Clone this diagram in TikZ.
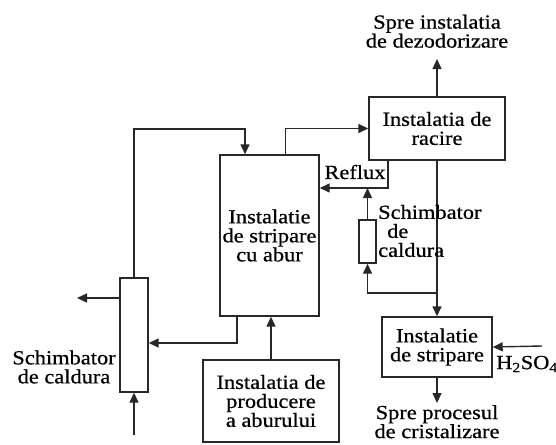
\documentclass[tikz,border=0pt]{standalone}
\usepackage{fontspec}
\setmainfont{Liberation Serif}[FakeStretch=1.12, FakeBold=0.6]
\usepackage{tikz}
\usetikzlibrary{arrows.meta, positioning, calc}
\definecolor{inkGray}{RGB}{40,40,40}

\begin{document}
\begin{tikzpicture}[x=1pt, y=-1pt,
    unit/.style={draw=inkGray, line width=1.4pt, inner sep=0pt, align=center, font=\fontsize{20}{19}\selectfont},
    exchanger/.style={draw=inkGray, line width=1.4pt, inner sep=0pt},
    flow/.style={draw=inkGray, line width=1.4pt, -{Triangle[length=10pt,width=9pt]}},
    lbl/.style={inner sep=1pt, align=center, font=\fontsize{20}{19}\selectfont}]
    \useasboundingbox (0,0) rectangle (556,444);

    % Units
    \node[unit, minimum width=99pt, minimum height=161pt] (column) at (269.5,235.5) {Instalatie\\de stripare\\cu abur};
    \node[unit, minimum width=136pt, minimum height=63pt] (cooler) at (437,128.5) {Instalatia de\\racire};
    \node[unit, minimum width=110pt, minimum height=60pt] (stripper) at (437,347) {Instalatie\\de stripare};
    \node[unit, minimum width=136pt, minimum height=82pt] (steam) at (271,401) {Instalatia de\\producere\\a aburului};

    % Heat exchangers
    \node[exchanger, minimum width=28pt, minimum height=114pt] (hxBig) at (134,335) {};
    \node[exchanger, minimum width=17pt, minimum height=43pt] (hxSmall) at (367.5,241.5) {};

    % Free ends and junctions
    \coordinate (toDezo) at (437,59);
    \coordinate (toCryst) at (437,403);
    \coordinate (acidIn) at (542,346);
    \coordinate (refluxTurn) at (388,188);
    \coordinate (tapOff) at (437,293);
    \coordinate (loopTop) at (245,129);
    \coordinate (outLeft) at (77,298);
    \coordinate (inBottom) at (134,435);

    % Streams
    \draw[flow] (cooler.north) -- (toDezo);
    \draw[flow] ([xshift=16pt]column.north) |- (cooler.west);
    \draw[flow] (cooler.south -| refluxTurn) -- (refluxTurn) -- (refluxTurn -| column.east);
    \draw[flow] (hxSmall.north) -- (hxSmall.north |- refluxTurn);
    \draw[flow] (cooler.south) -- (stripper.north);
    \draw[flow] (tapOff) -| (hxSmall.south);
    \draw[flow] (acidIn) -- (stripper.east);
    \draw[flow] (stripper.south) -- (toCryst);
    \draw[flow] (steam.north) -- (steam.north |- column.south);
    \draw[flow] ([xshift=-32.5pt]column.south) |- ([yshift=-8pt]hxBig.east);
    \draw[flow] (hxBig.north) |- (loopTop) -- (loopTop |- column.north);
    \draw[flow] (hxBig.west |- outLeft) -- (outLeft);
    \draw[flow] (inBottom) -- (hxBig.south);

    % Labels
    \node[lbl, above=10pt of toDezo] (dezo) {Spre instalatia\\de dezodorizare};
    \node[lbl, below=1pt of toCryst] (cryst) {Spre procesul\\de cristalizare};
    \node[lbl] (reflux) at (355,172) {Reflux};
    \node[lbl, anchor=west, align=left] (hxSmallLbl) at (377,231) {Schimbator\\\hspace*{9pt}de\\caldura};
    \node[lbl] (hxBigLbl) at (64,367) {Schimbator\\de caldura};
    \node[lbl] (acid) at (527,364) {H\textsubscript{2}SO\textsubscript{4}};
\end{tikzpicture}
\end{document}
